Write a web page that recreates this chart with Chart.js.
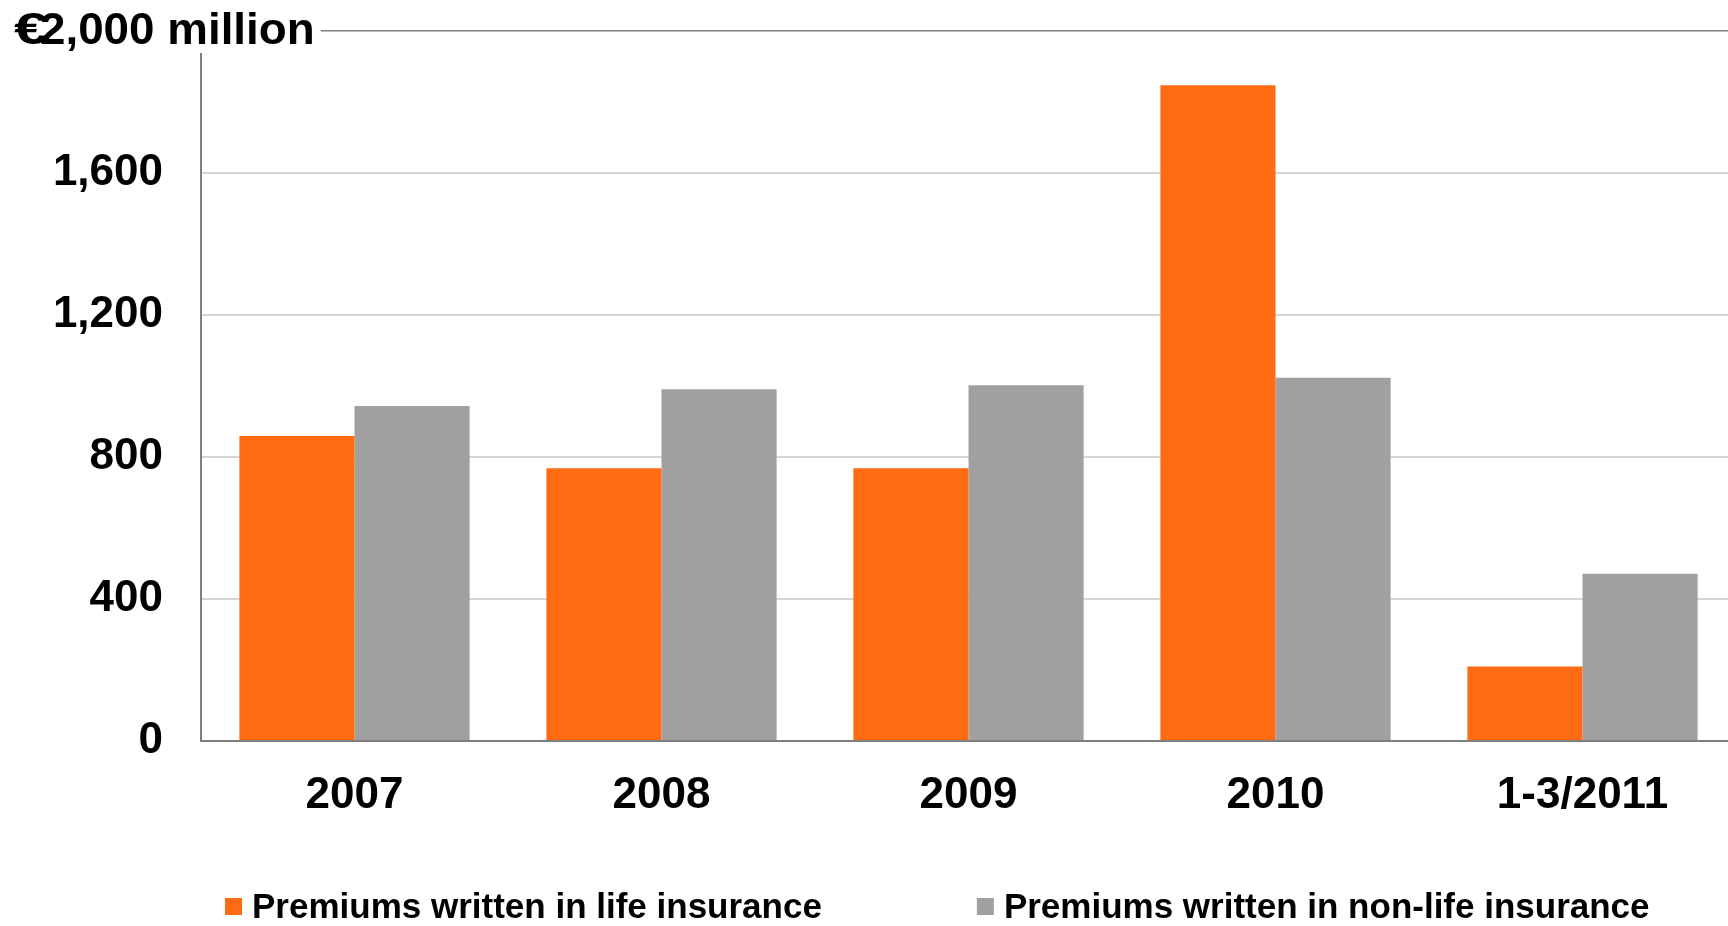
<!DOCTYPE html>
<html>
<head>
<meta charset="utf-8">
<script src="https://cdn.jsdelivr.net/npm/chart.js@4/dist/chart.umd.min.js"></script>
<style>
  html, body { margin: 0; padding: 0; background: #fff; overflow: hidden; }
  #wrap { width: 1728px; height: 926px; overflow: hidden; }
</style>
</head>
<body>
<div id="wrap"><canvas id="c" width="1736" height="926"></canvas></div>
<script>
const categories = ["2007", "2008", "2009", "2010", "1-3/2011"];
const lifePremiums = [859, 768, 768, 1847, 210];
const nonLifePremiums = [944, 991, 1002, 1023, 471];
const seriesLabels = ["Premiums written in life insurance", "Premiums written in non-life insurance"];
const yTicks = [0, 400, 800, 1200, 1600, 2000];
const yMax = 2000;
const unitLabel = "million";

const FONT = "'Liberation Sans', Arial, sans-serif";
const ORANGE = "#FF6B12";
const GREY = "#A0A0A0";
const AXIS = "#7f7f7f";
const GRID = "#d6d6d6";

const topLabelPlugin = {
  id: "topLabel",
  afterDraw(chart) {
    const ctx = chart.ctx;
    const y = chart.scales.y.getPixelForValue(yMax);
    ctx.save();
    ctx.font = "bold 44px " + FONT;
    const rest = yMax.toLocaleString("en-US") + " " + unitLabel;
    const restX = 40;
    const restScale = 1.04;
    const w = ctx.measureText(rest).width * restScale;
    ctx.fillStyle = "#fff";
    ctx.fillRect(0, 0, restX + w + 6, y + 22);
    ctx.fillStyle = "#000";
    ctx.textBaseline = "alphabetic";
    ctx.save();
    ctx.translate(14, y + 13);
    ctx.scale(1.4, 1);
    ctx.fillText("\u20AC", 0, 0);
    ctx.restore();
    ctx.save();
    ctx.translate(restX, y + 13);
    ctx.scale(restScale, 1);
    ctx.fillText(rest, 0, 0);
    ctx.restore();
    ctx.restore();
  }
};

const legendPlugin = {
  id: "customLegend",
  afterDraw(chart) {
    const ctx = chart.ctx;
    ctx.save();
    ctx.font = "bold 35px " + FONT;
    ctx.textBaseline = "alphabetic";
    let x = chart.chartArea.left + 24;
    const baseline = 918;
    const box = 17;
    chart.data.datasets.forEach((ds) => {
      ctx.fillStyle = ds.backgroundColor;
      ctx.fillRect(x, baseline - 20, box, box);
      x += box + 10;
      ctx.fillStyle = "#000";
      ctx.fillText(ds.label, x, baseline);
      x += ctx.measureText(ds.label).width + 155;
    });
    ctx.restore();
  }
};

new Chart(document.getElementById("c"), {
  type: "bar",
  data: {
    labels: categories,
    datasets: [
      { label: seriesLabels[0], data: lifePremiums, backgroundColor: ORANGE, borderWidth: 0 },
      { label: seriesLabels[1], data: nonLifePremiums, backgroundColor: GREY, borderWidth: 0 }
    ]
  },
  options: {
    responsive: false,
    animation: false,
    events: [],
    layout: { padding: { top: 31, right: 0, bottom: 0, left: 0 } },
    datasets: { bar: { categoryPercentage: 0.75, barPercentage: 1.0 } },
    plugins: { legend: { display: false }, tooltip: { enabled: false } },
    scales: {
      x: {
        grid: { display: false, drawTicks: false },
        border: { display: true, color: AXIS, width: 2 },
        ticks: { color: "#000", font: { family: FONT, size: 44, weight: "bold" }, padding: 28, maxRotation: 0 },
        afterFit(scale) { scale.height = 185; scale.paddingLeft = 0; scale.paddingRight = 0; }
      },
      y: {
        min: 0,
        max: yMax,
        afterBuildTicks(scale) { scale.ticks = yTicks.map(v => ({ value: v })); },
        grid: {
          drawTicks: false,
          color(ctx) {
            const v = ctx.tick && ctx.tick.value;
            if (v === yMax) return AXIS;
            if (v === 0) return "rgba(0,0,0,0)";
            return GRID;
          },
          lineWidth(ctx) { return (ctx.tick && ctx.tick.value === yMax) ? 1.5 : 2; }
        },
        border: { display: true, color: AXIS, width: 2 },
        ticks: {
          color: "#000",
          font: { family: FONT, size: 44, weight: "bold" },
          padding: 38,
          callback(v) { return v === yMax ? "" : v.toLocaleString("en-US"); }
        },
        afterFit(scale) { scale.width = 201; scale.paddingTop = 0; scale.paddingBottom = 0; }
      }
    }
  },
  plugins: [topLabelPlugin, legendPlugin]
});
</script>
</body>
</html>
